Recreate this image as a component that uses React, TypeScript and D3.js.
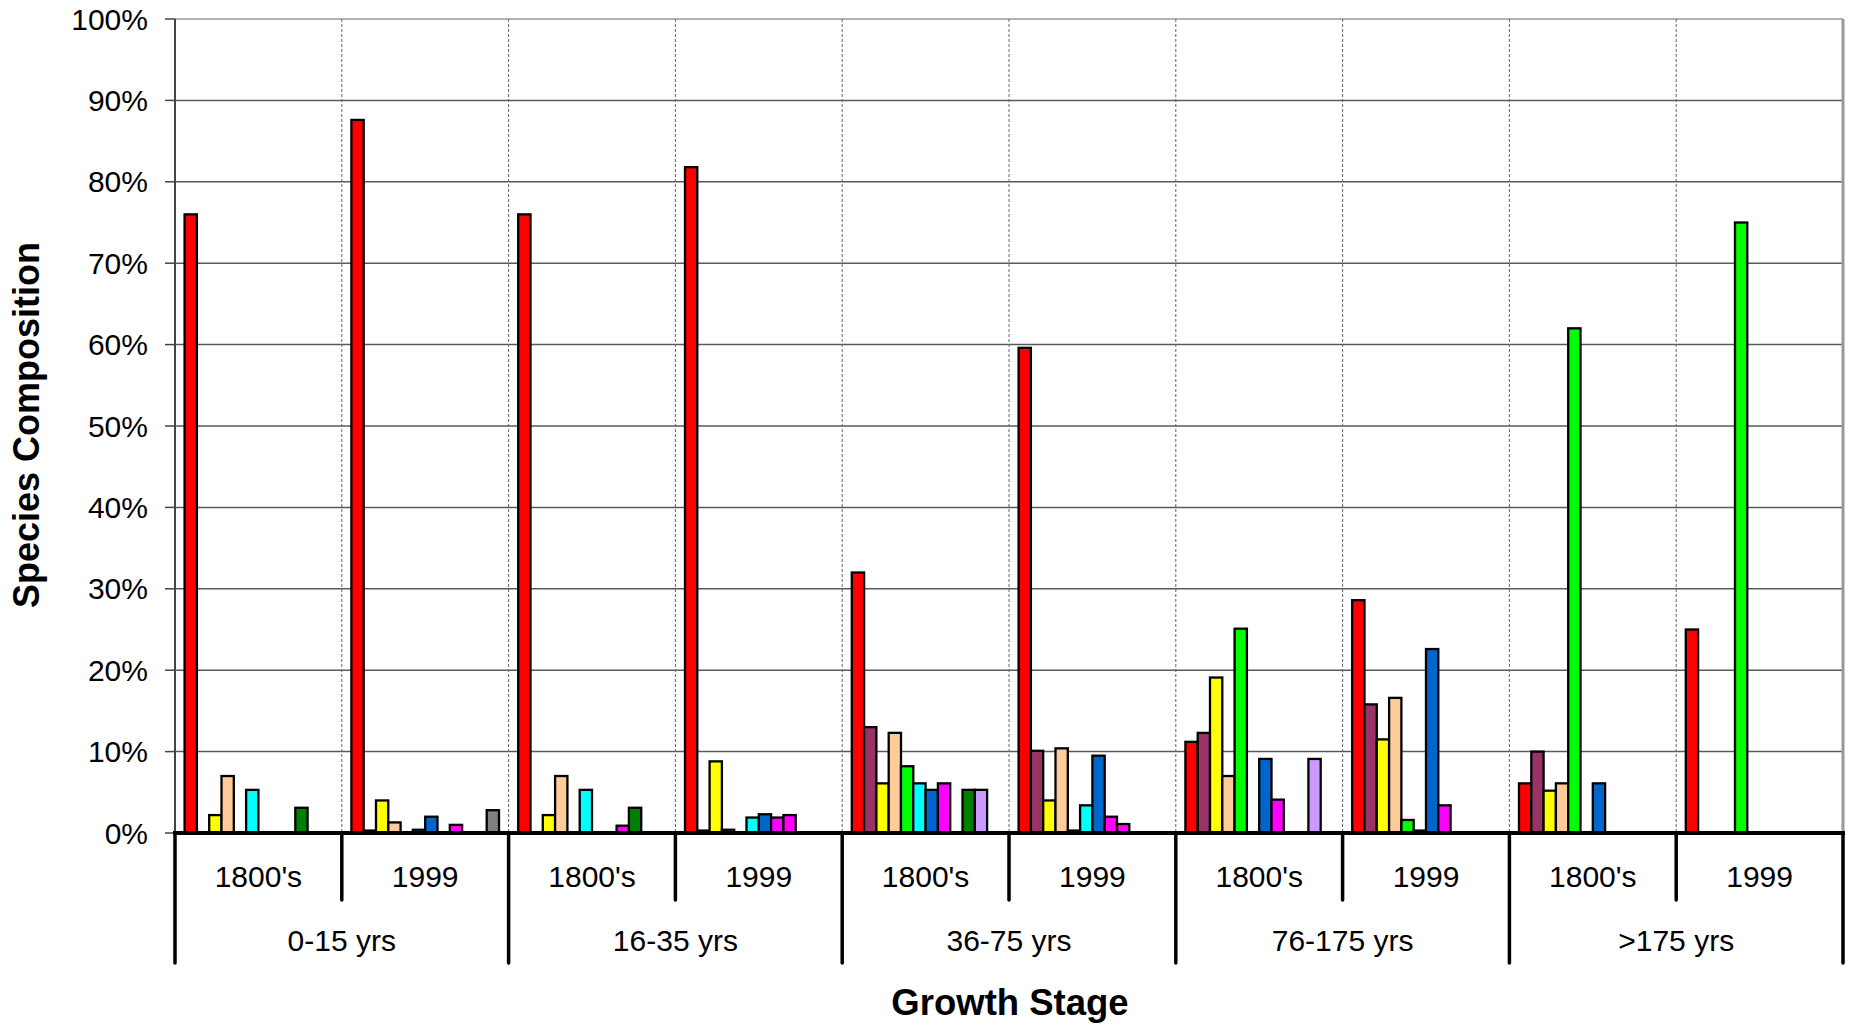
import React from "react";
import * as d3 from "d3";

// ---- data ----
const stages = ["0-15 yrs", "16-35 yrs", "36-75 yrs", "76-175 yrs", ">175 yrs"];
const periods = ["1800's", "1999"];
const yTicks = [0, 10, 20, 30, 40, 50, 60, 70, 80, 90, 100];

// values per sub-group, in order: 0-15 1800's, 0-15 1999, 16-35 1800's, 16-35 1999, 36-75 1800's, 36-75 1999, 76-175 1800's, 76-175 1999, >175 1800's, >175 1999
const s1 = [76, 87.6, 76, 81.8, 32, 59.6, 11.2, 28.6, 6.1, 25];
const s2 = [0, 0.3, 0, 0.3, 13, 10.1, 12.3, 15.8, 10, 0];
const s3 = [2.2, 4, 2.2, 8.8, 6.1, 4, 19.1, 11.5, 5.2, 0];
const s4 = [7, 1.3, 7, 0.4, 12.3, 10.4, 7, 16.6, 6.1, 0];
const s5 = [0, 0.1, 0, 0.1, 8.2, 0.3, 25.1, 1.6, 62, 75];
const s6 = [5.3, 0.4, 5.3, 1.9, 6.1, 3.4, 0, 0.3, 0, 0];
const s7 = [0, 2, 0, 2.3, 5.3, 9.5, 9.1, 22.6, 6.1, 0];
const s8 = [0, 0.1, 0, 1.9, 6.1, 2, 4.1, 3.4, 0, 0];
const s9 = [0, 1, 0.9, 2.2, 0, 1.1, 0, 0, 0, 0];
const s10 = [3.1, 0, 3.1, 0, 5.3, 0, 0, 0, 0, 0];
const s11 = [0, 0, 0, 0, 5.3, 0, 9.1, 0, 0, 0];
const s12 = [0, 2.8, 0, 0, 0, 0, 0, 0, 0, 0];

const seriesValues = [s1, s2, s3, s4, s5, s6, s7, s8, s9, s10, s11, s12];
const seriesColors = [
  "#FF0000", "#993366", "#FFFF00", "#FFCC99", "#00FF00", "#00FFFF",
  "#0066CC", "#FF00FF", "#FF00FF", "#008000", "#CC99FF", "#808080",
];

const FONT = "'Liberation Sans', Arial, sans-serif";

export default function App() {
  const W = 1850, H = 1025;
  const left = 175, right = 1843, top = 19, bottom = 833;

  const subgroups = stages.flatMap((s) => periods.map((p) => `${s}|${p}`));
  const xGroup = d3.scaleBand<string>().domain(subgroups).range([left, right]).padding(0);
  const xSlot = d3
    .scaleBand<number>()
    .domain(d3.range(seriesValues.length))
    .range([0, xGroup.bandwidth()])
    .paddingInner(0)
    .paddingOuter(0.78);
  const y = d3.scaleLinear().domain([0, 100]).range([bottom, top]);

  const stageScale = d3.scaleBand<string>().domain(stages).range([left, right]).padding(0);

  return (
    <svg
      width={W}
      height={H}
      style={{ position: "absolute", left: 0, top: 0, background: "#fff" }}
      fontFamily={FONT}
    >
      {/* horizontal gridlines */}
      {yTicks.filter((t) => t > 0).map((t) => (
        <line key={"g" + t} x1={left} x2={right} y1={y(t)} y2={y(t)} stroke={t === 100 ? "#9a9a9a" : "#5a5a5a"} strokeWidth={1.5} />
      ))}
      {/* vertical dashed separators */}
      {subgroups.slice(1).map((sg) => (
        <line key={"v" + sg} x1={xGroup(sg)!} x2={xGroup(sg)!} y1={top} y2={bottom} stroke="#666" strokeWidth={1} strokeDasharray="3,2" />
      ))}
      {/* right border */}
      <line x1={right} x2={right} y1={top} y2={bottom} stroke="#999" strokeWidth={3} />

      {/* bars */}
      {subgroups.map((sg, gi) =>
        seriesValues.map((vals, si) => {
          const v = vals[gi];
          if (!v) return null;
          const x = xGroup(sg)! + xSlot(si)!;
          return (
            <rect
              key={sg + si}
              x={x}
              y={y(v)}
              width={xSlot.bandwidth()}
              height={y(0) - y(v)}
              fill={seriesColors[si]}
              stroke="#000"
              strokeWidth={2.3}
            />
          );
        })
      )}

      {/* y axis */}
      <line x1={left} x2={left} y1={top} y2={bottom} stroke="#444" strokeWidth={2} />
      {yTicks.map((t) => (
        <g key={"t" + t}>
          <line x1={left - 10} x2={left} y1={y(t)} y2={y(t)} stroke="#444" strokeWidth={1.5} />
          <text x={148} y={y(t) + 10.5} textAnchor="end" fontSize={30} fill="#000">
            {t}%
          </text>
        </g>
      ))}

      {/* x axis */}
      <line x1={left - 2} x2={right + 2} y1={bottom} y2={bottom} stroke="#000" strokeWidth={4} />
      {subgroups.map((sg, i) => {
        const x = xGroup(sg)!;
        const major = i % 2 === 0;
        return (
          <line key={"xt" + sg} x1={x} x2={x} y1={bottom} y2={major ? 963 : 900} stroke="#000" strokeWidth={3.5} strokeLinecap="round" />
        );
      })}
      <line x1={right} x2={right} y1={bottom} y2={963} stroke="#000" strokeWidth={3.5} strokeLinecap="round" />
      {subgroups.map((sg) => (
        <text key={"xl" + sg} x={xGroup(sg)! + xGroup.bandwidth() / 2} y={887} textAnchor="middle" fontSize={30} fill="#000">
          {sg.split("|")[1]}
        </text>
      ))}
      {stages.map((s) => (
        <text key={"st" + s} x={stageScale(s)! + stageScale.bandwidth() / 2} y={951} textAnchor="middle" fontSize={30} fill="#000">
          {s}
        </text>
      ))}

      {/* axis titles */}
      <text x={1010} y={1015} textAnchor="middle" fontSize={36.5} fontWeight="bold" fill="#000">
        Growth Stage
      </text>
      <text
        transform={`translate(39, 425) rotate(-90)`}
        textAnchor="middle"
        fontSize={36}
        fontWeight="bold"
        fill="#000"
      >
        Species Composition
      </text>
    </svg>
  );
}
